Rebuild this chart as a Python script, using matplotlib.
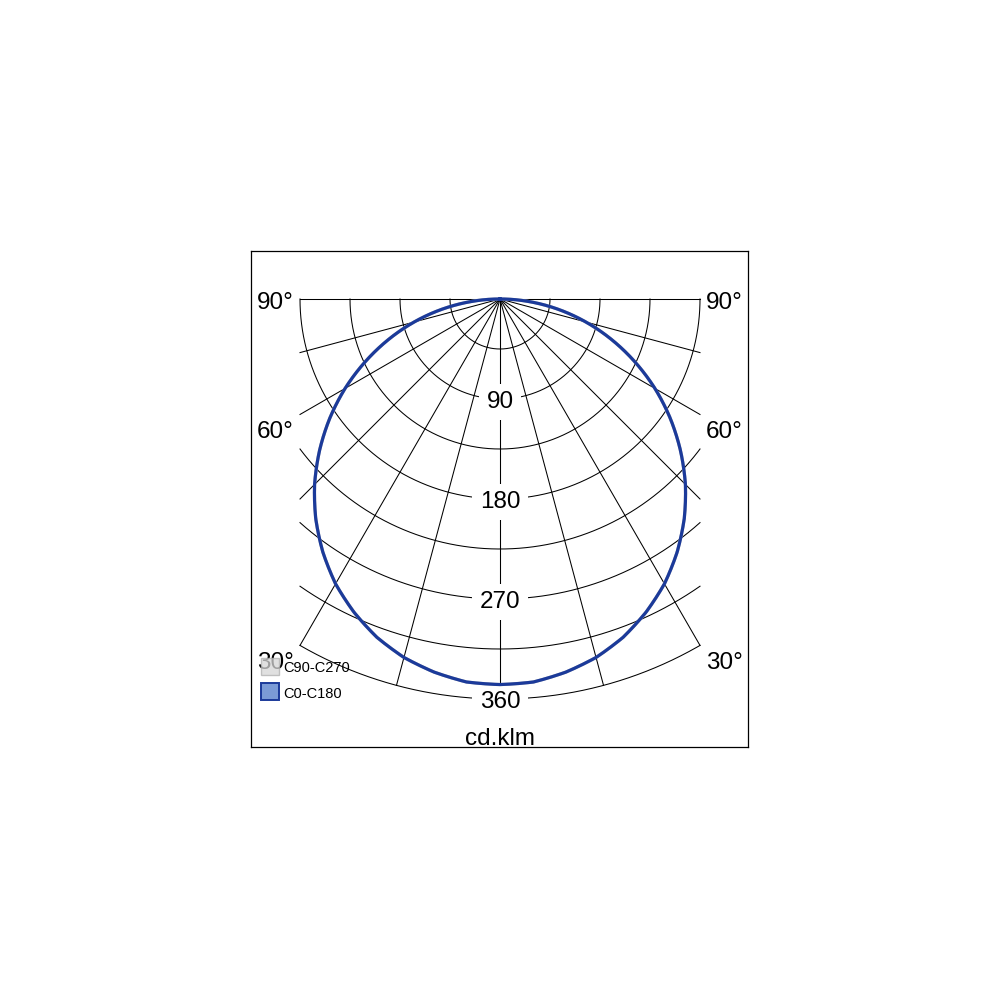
import numpy as np
import matplotlib.pyplot as plt
from matplotlib.patches import Rectangle

plt.rcParams['font.family'] = ['Liberation Sans', 'DejaVu Sans']

# luminous intensity (cd/klm) vs gamma angle
gamma = [0, 5, 10, 15, 20, 25, 30, 35, 40, 45, 50, 55, 60, 65, 70, 75, 80, 85, 90]
c0_c180 = [347, 346, 341, 334, 324, 311, 296, 278, 258, 236, 212, 187, 161, 134, 107, 80, 53, 26, 0]
c90_c270 = [347, 346, 341, 334, 324, 311, 296, 278, 258, 236, 212, 187, 161, 134, 107, 80, 53, 26, 0]

ring_values = [45, 90, 135, 180, 225, 270, 315, 360]
ring_labels = [90, 180, 270, 360]
ray_angles = [0, 15, 30, 45, 60, 75, 90]
side_labels = ['90°', '60°', '30°']
side_label_y = [-9, -125, -333]

half_width = 180   # grid is clipped at +-180 cd/klm horizontally
r_max = 360

blue = '#1b3a9a'

fig = plt.figure(figsize=(10, 10), dpi=100)
ax = fig.add_axes([0.251, 0.253, 0.497, 0.496])
ax.set_xlim(-224.1, 223.2)
ax.set_ylim(-403.2, 43.2)
ax.set_xticks([])
ax.set_yticks([])
for s in ax.spines.values():
    s.set_linewidth(0.9)
    s.set_color('black')

# rings, clipped to the vertical limits
for r in ring_values:
    lim = 90.0 if r <= half_width else np.degrees(np.arcsin(half_width / r))
    t = np.radians(np.linspace(-lim, lim, 400))
    ax.plot(r * np.sin(t), -r * np.cos(t), color='black', lw=0.75, zorder=1)

# rays
for a in ray_angles:
    for sgn in (-1, 1):
        t = np.radians(sgn * a)
        L = r_max if a == 0 else min(r_max, half_width / np.sin(np.radians(a)))
        ax.plot([0, L * np.sin(t)], [0, -L * np.cos(t)], color='black', lw=0.75, zorder=1)

# ring value labels
for v in ring_labels:
    ax.text(0, -v - 8, str(v), ha='center', va='baseline', fontsize=17.5, zorder=3,
            bbox=dict(boxstyle='square,pad=0.3', fc='white', ec='none'))

# angle labels on both sides
for lab, y in zip(side_labels, side_label_y):
    ax.text(-202, y, lab, ha='center', va='baseline', fontsize=17.5, zorder=3)
    ax.text(202, y, lab, ha='center', va='baseline', fontsize=17.5, zorder=3)

ax.text(0, -401.5, 'cd.klm', ha='center', va='baseline', fontsize=17.5, zorder=3)

# legend
ax.add_patch(Rectangle((-215.1, -338.4), 16.2, 15.3, fc='#d6d6d6', ec='#b0b0b0',
                       lw=1.0, alpha=0.75, zorder=6))
ax.text(-195.3, -335.3, 'C90-C270', ha='left', va='baseline', fontsize=10.5, zorder=6)
ax.add_patch(Rectangle((-215.1, -360.9), 16.2, 15.3, fc='#7b9bd6', ec=blue,
                       lw=1.4, zorder=6))
ax.text(-195.3, -358.7, 'C0-C180', ha='left', va='baseline', fontsize=10.5, zorder=6)

# curves on a transparent polar axes sharing the same centre and scale
# (centre at pixel 500,299; 360 cd/klm = 400 px)
pax = fig.add_axes([0.1, 0.301, 0.8, 0.8], projection='polar')
pax.set_theta_zero_location('S')
pax.set_rlim(0, r_max)
pax.axis('off')
pax.patch.set_alpha(0)

g = np.radians(np.array(gamma, dtype=float))
ang = np.concatenate([-g[::-1], g[1:]])
for vals, col in [(c90_c270, '#bdbdbd'), (c0_c180, blue)]:
    v = np.array(vals, dtype=float)
    rr = np.concatenate([v[::-1], v[1:]])
    line, = pax.plot(ang, rr, color=col, lw=2.3, solid_joinstyle='round')
    # let the polar transform draw each segment as a curve, not a chord
    line.get_path()._interpolation_steps = 25

fig.savefig('out.png', dpi=100, facecolor='white')
